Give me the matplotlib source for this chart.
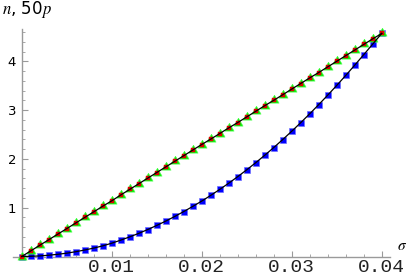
import matplotlib
matplotlib.use("Agg")
import matplotlib.pyplot as plt
from matplotlib.ticker import MultipleLocator

# sigma grid (every 0.001 from 0 to 0.04)
sigma = [i / 1000 for i in range(41)]

# n (green triangles / red marks)
n_vals = [0.000, 0.114, 0.229, 0.343, 0.457, 0.571, 0.686, 0.800, 0.914, 1.030,
          1.140, 1.260, 1.375, 1.490, 1.605, 1.720, 1.835, 1.950, 2.065, 2.180,
          2.295, 2.405, 2.520, 2.635, 2.745, 2.860, 2.975, 3.090, 3.200, 3.315,
          3.430, 3.545, 3.660, 3.770, 3.885, 4.000, 4.115, 4.230, 4.345, 4.460,
          4.570]

# 50p (blue squares)
p50_vals = [0.000, 0.004, 0.012, 0.026, 0.045, 0.068, 0.098, 0.133, 0.172, 0.218,
            0.272, 0.335, 0.402, 0.474, 0.552, 0.636, 0.725, 0.820, 0.920, 1.026,
            1.135, 1.252, 1.374, 1.502, 1.636, 1.776, 1.922, 2.074, 2.232, 2.396,
            2.566, 2.742, 2.924, 3.112, 3.306, 3.505, 3.710, 3.920, 4.135, 4.352,
            4.570]

xticks = [0.01, 0.02, 0.03, 0.04]
xtick_labels = ["0.01", "0.02", "0.03", "0.04"]
yticks = [1, 2, 3, 4]
ytick_labels = ["1", "2", "3", "4"]

plt.rcParams['mathtext.fontset'] = 'stix'

W, H = 415, 273
fig = plt.figure(figsize=(W / 100, H / 100), dpi=100)

x_min, x_max = -0.001, 0.0409
y_min, y_max = 0.0, 4.66
px_x0 = 21.7
px_per_x = 9000.0  # px per unit sigma
left_px = px_x0 + x_min * px_per_x
right_px = px_x0 + x_max * px_per_x
y0_px = 256.5
px_per_y = 48.8
top_px = y0_px - y_max * px_per_y

ax = fig.add_axes([left_px / W, 1 - y0_px / H, (right_px - left_px) / W, (y0_px - top_px) / H])
ax.set_xlim(x_min, x_max)
ax.set_ylim(y_min, y_max)
ax.patch.set_alpha(0)

axis_col = "#9a9a9a"
for s in ["top", "right"]:
    ax.spines[s].set_visible(False)
ax.spines["left"].set_position(("data", 0))
ax.spines["bottom"].set_position(("data", 0))
ax.spines["left"].set_color(axis_col)
ax.spines["bottom"].set_color(axis_col)
ax.spines["left"].set_linewidth(1.0)
ax.spines["bottom"].set_linewidth(1.0)

ax.set_xticks(xticks)
ax.set_xticklabels(xtick_labels, family="Liberation Mono", fontsize=14, color="#222222")
ax.set_yticks(yticks)
ax.set_yticklabels(ytick_labels, family="DejaVu Sans", fontsize=9.5)
ax.xaxis.set_minor_locator(MultipleLocator(0.002))
ax.yaxis.set_minor_locator(MultipleLocator(0.2))
ax.tick_params(axis="both", which="major", direction="in", length=4, color=axis_col, width=0.8)
ax.tick_params(axis="both", which="minor", direction="in", length=2, color=axis_col, width=0.6)
ax.tick_params(axis="x", which="major", pad=2)
ax.tick_params(axis="y", which="major", pad=4)

# centroid-centred triangle marker
tri = [(0.0, 1.0), (-0.866, -0.5), (0.866, -0.5), (0.0, 1.0)]

# series
ax.plot(sigma, p50_vals, linestyle="none", marker="s", ms=5.0, mfc="#0000ff", mec="#7070ff",
        mew=0.5, zorder=3, clip_on=False)
ax.plot(sigma, n_vals, linestyle="none", marker=tri, ms=7.5, mfc="#00ee00", mec="#55ff55",
        mew=0.5, zorder=4, clip_on=False)
ax.plot(sigma, n_vals, linestyle="none", marker="s", ms=2.6, mfc="#e00000", mec="#e00000",
        mew=0.3, zorder=5, clip_on=False)
ax.plot(sigma, p50_vals, color="black", lw=0.9, zorder=6, clip_on=False)
ax.plot(sigma, n_vals, color="black", lw=0.9, zorder=6, clip_on=False)

fig.text(402 / W, 1 - 245 / H, r"$\sigma$", fontsize=11, ha="center", va="center")
fig.text(2 / W, 1 - 9 / H, r"$n$, 50$p$", fontsize=12, ha="left", va="center")

fig.savefig("out.png", dpi=100)
